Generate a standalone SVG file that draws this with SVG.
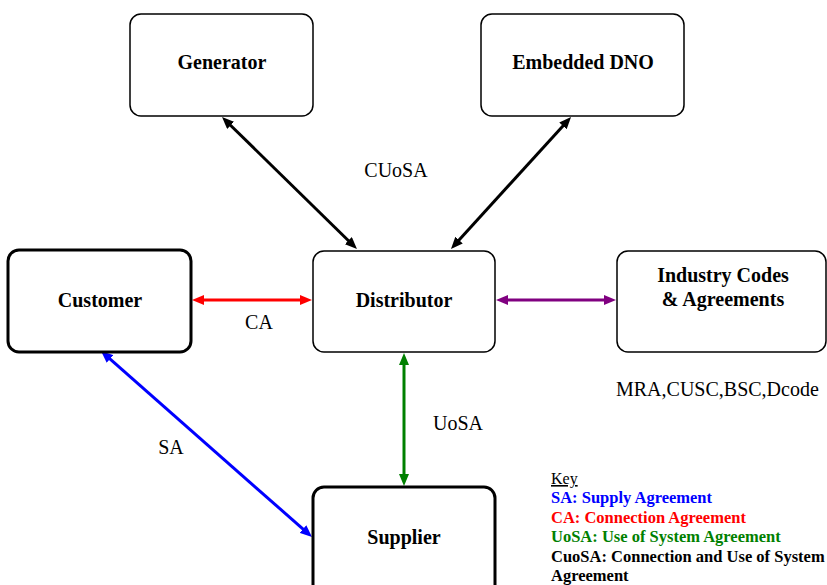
<svg xmlns="http://www.w3.org/2000/svg" width="827" height="585" viewBox="0 0 827 585">
<style>
.box{fill:#fff;stroke:#000;stroke-width:1.5}
.thick{stroke-width:3}
.nt{font-family:"Liberation Serif","Times New Roman",serif;font-weight:bold;font-size:20px;text-anchor:middle;fill:#000}
.lb{font-family:"Liberation Serif","Times New Roman",serif;font-size:20px;fill:#000}
.key{font-family:"Liberation Serif","Times New Roman",serif;font-weight:bold;font-size:16.5px}
.c{fill:none;stroke-width:3}
</style>
<defs>
<marker id="aK" viewBox="0 0 12 10" refX="2" refY="5" markerWidth="12" markerHeight="10" markerUnits="userSpaceOnUse" orient="auto-start-reverse"><path d="M0,0 L12,5 L0,10 z" fill="#000"/></marker>
<marker id="aR" viewBox="0 0 12 10" refX="2" refY="5" markerWidth="12" markerHeight="10" markerUnits="userSpaceOnUse" orient="auto-start-reverse"><path d="M0,0 L12,5 L0,10 z" fill="#ff0000"/></marker>
<marker id="aP" viewBox="0 0 12 10" refX="2" refY="5" markerWidth="12" markerHeight="10" markerUnits="userSpaceOnUse" orient="auto-start-reverse"><path d="M0,0 L12,5 L0,10 z" fill="#800080"/></marker>
<marker id="aG" viewBox="0 0 12 10" refX="2" refY="5" markerWidth="12" markerHeight="10" markerUnits="userSpaceOnUse" orient="auto-start-reverse"><path d="M0,0 L12,5 L0,10 z" fill="#008000"/></marker>
<marker id="aB" viewBox="0 0 12 10" refX="2" refY="5" markerWidth="12" markerHeight="10" markerUnits="userSpaceOnUse" orient="auto-start-reverse"><path d="M0,0 L12,5 L0,10 z" fill="#0000ff"/></marker>
</defs>
<rect width="827" height="585" fill="#fff"/>
<g id="connectors">
<line class="c" x1="229.2" y1="124" x2="349.8" y2="242" stroke="#000" marker-start="url(#aK)" marker-end="url(#aK)"/>
<line class="c" x1="564.3" y1="124.4" x2="457.7" y2="241.6" stroke="#000" marker-start="url(#aK)" marker-end="url(#aK)"/>
<line class="c" x1="202" y1="300" x2="302" y2="300" stroke="#ff0000" marker-start="url(#aR)" marker-end="url(#aR)"/>
<line class="c" x1="506" y1="300" x2="606" y2="300" stroke="#800080" marker-start="url(#aP)" marker-end="url(#aP)"/>
<line class="c" x1="404" y1="363" x2="404" y2="476" stroke="#008000" marker-start="url(#aG)" marker-end="url(#aG)"/>
<line class="c" x1="108.5" y1="357.6" x2="304.5" y2="530.4" stroke="#0000ff" marker-start="url(#aB)" marker-end="url(#aB)"/>
<text class="lb" x="396" y="177" text-anchor="middle">CUoSA</text>
<text class="lb" x="259" y="329" text-anchor="middle">CA</text>
<text class="lb" x="171" y="454" text-anchor="middle">SA</text>
<text class="lb" x="458" y="430" text-anchor="middle">UoSA</text>
</g>
<g id="generator"><rect class="box" x="130" y="14" width="183" height="102" rx="11"/><text class="nt" x="222" y="69">Generator</text></g>
<g id="embedded-dno"><rect class="box" x="481" y="14" width="203" height="102" rx="11"/><text class="nt" x="583" y="69">Embedded DNO</text></g>
<g id="customer"><rect class="box thick" x="8" y="250" width="183" height="102" rx="11"/><text class="nt" x="100" y="307">Customer</text></g>
<g id="distributor"><rect class="box" x="313" y="251" width="182" height="101" rx="11"/><text class="nt" x="404" y="307">Distributor</text></g>
<g id="industry"><rect class="box" x="617" y="251" width="209" height="101" rx="11"/><text class="nt" x="723" y="282">Industry Codes</text><text class="nt" x="723" y="306">&amp; Agreements</text><text class="lb" x="616" y="396" font-size="20.5">MRA,CUSC,BSC,Dcode</text></g>
<g id="supplier"><rect class="box thick" x="313" y="487" width="182" height="110" rx="11"/><text class="nt" x="404" y="544">Supplier</text></g>
<g id="key">
<text x="551" y="484" font-family="Liberation Serif,serif" font-size="16" text-decoration="underline">Key</text>
<text class="key" x="551" y="503" fill="#0000ff">SA: Supply Agreement</text>
<text class="key" x="551" y="523" fill="#ff0000">CA: Connection Agreement</text>
<text class="key" x="551" y="542" fill="#008000">UoSA: Use of System Agreement</text>
<text class="key" x="551" y="562" fill="#000">CuoSA: Connection and Use of System</text>
<text class="key" x="551" y="581" fill="#000">Agreement</text>
</g>
</svg>
